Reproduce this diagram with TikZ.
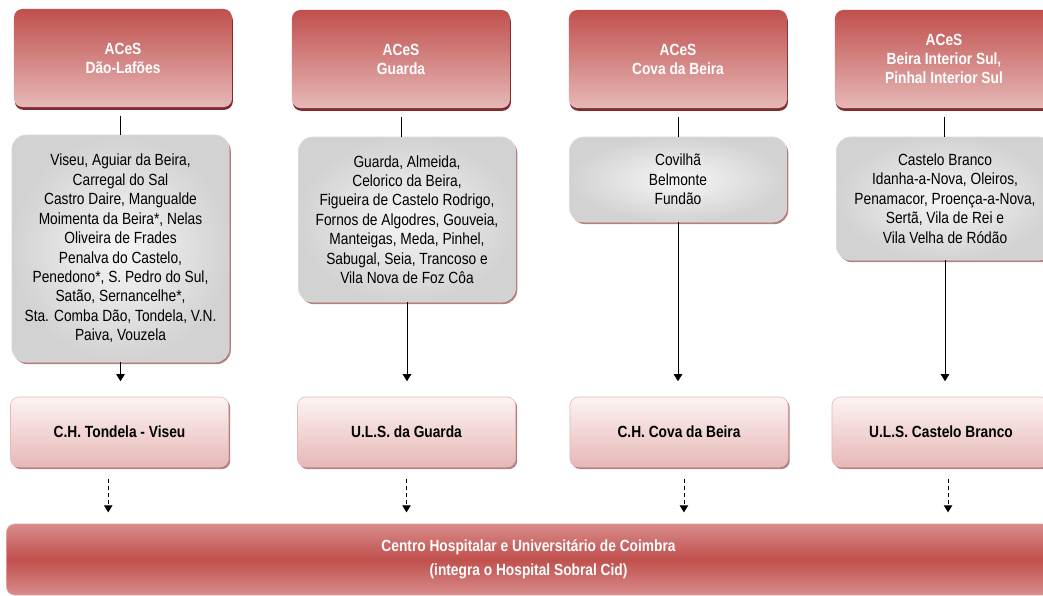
\documentclass[tikz,border=0pt]{standalone}
\usepackage{fontspec}
\setmainfont{Liberation Sans}[FakeStretch=0.85]
\usetikzlibrary{arrows.meta,shadows}
\definecolor{acesred}{RGB}{192,80,77}
\definecolor{acespink}{RGB}{230,184,183}
\definecolor{acesshade}{RGB}{130,45,45}
\definecolor{hosptop}{RGB}{253,243,243}
\definecolor{grayin}{RGB}{246,246,246}
\definecolor{grayout}{RGB}{210,210,210}
\definecolor{barlight}{RGB}{216,140,139}

\begin{document}
\begin{tikzpicture}[x=0.025cm,y=-0.025cm,
  every node/.style={align=center, inner sep=0pt, font=\fontsize{11.5}{13.8}\selectfont},
  aces/.style={rounded corners=6pt, top color=acesred, bottom color=acespink, text=white,
    minimum width=5.45cm, minimum height=2.45cm, font=\fontsize{11.5}{13.6}\selectfont\bfseries,
    drop shadow={shadow xshift=0.6pt, shadow yshift=-2pt, fill=acesshade, opacity=1}},
  towns/.style={rounded corners=10pt, shading=radial, inner color=grayin, outer color=grayout,
    draw=gray!25, minimum width=5.43cm,
    drop shadow={shadow xshift=1.2pt, shadow yshift=-1.5pt, fill=acesshade!60, opacity=1}},
  hosp/.style={rounded corners=6pt, top color=hosptop, bottom color=acespink, draw=acespink,
    minimum width=5.45cm, minimum height=1.75cm, font=\fontsize{11.5}{13.6}\selectfont\bfseries,
    drop shadow={shadow xshift=1.2pt, shadow yshift=-1.5pt, fill=acesshade!60, opacity=1}},
  chuc/.style={rounded corners=6pt, top color=barlight, bottom color=barlight, middle color=acesred,
    draw=acespink, text=white, minimum width=26.1cm, minimum height=1.78cm,
    font=\fontsize{11.5}{17}\selectfont\bfseries},
  link/.style={line width=0.6pt},
  flow/.style={line width=0.6pt, -{Triangle[width=6pt,length=5pt]}},
  dflow/.style={line width=0.6pt, dash pattern=on 3pt off 2pt, -{Triangle[width=6pt,length=5pt]}}]
\useasboundingbox (0,0) rectangle (1043,596);

\node[aces] (t1) at (123,58) {ACeS\\Dão-Lafões};
\node[aces] (t2) at (401,59) {ACeS\\Guarda};
\node[aces] (t3) at (678,59) {ACeS\\Cova da Beira};
\node[aces] (t4) at (944,59) {ACeS\\Beira Interior Sul,\\Pinhal Interior Sul};

\node[towns, minimum height=5.675cm] (g1) at (120.5,248.5) {Viseu, Aguiar da Beira,\\Carregal do Sal\\Castro Daire, Mangualde\\Moimenta da Beira*, Nelas\\Oliveira de Frades\\Penalva do Castelo,\\Penedono*, S. Pedro do Sul,\\Satão, Sernancelhe*,\\Sta. Comba Dão, Tondela, V.N.\\Paiva, Vouzela};
\node[towns, minimum height=4.125cm] (g2) at (407,219.5) {Guarda, Almeida,\\Celorico da Beira,\\Figueira de Castelo Rodrigo,\\Fornos de Algodres, Gouveia,\\Manteigas, Meda, Pinhel,\\Sabugal, Seia, Trancoso e\\Vila Nova de Foz Côa};
\node[towns, minimum height=2.125cm] (g3) at (678,179.5) {Covilhã\\Belmonte\\Fundão};
\node[towns, minimum height=3.075cm] (g4) at (945,198.5) {Castelo Branco\\Idanha-a-Nova, Oleiros,\\Penamacor, Proença-a-Nova,\\Sertã, Vila de Rei e\\Vila Velha de Ródão};

\node[hosp] (p1) at (119.5,432) {C.H. Tondela - Viseu};
\node[hosp] (p2) at (406.5,432) {U.L.S. da Guarda};
\node[hosp] (p3) at (679,432) {C.H. Cova da Beira};
\node[hosp] (p4) at (941,432) {U.L.S. Castelo Branco};

\node[chuc] (bar) at (528.5,559.5) {Centro Hospitalar e Universitário de Coimbra\\(integra o Hospital Sobral Cid)};

\draw[link, shorten <=6pt] (g1.north |- t1.south) -- (g1.north);
\draw[link, shorten <=6pt] (t2.south) -- (t2.south |- g2.north);
\draw[link, shorten <=6pt] (t3.south) -- (t3.south |- g3.north);
\draw[link, shorten <=6pt] (t4.south) -- (t4.south |- g4.north);

\draw[flow, shorten >=11pt] (g1.south) -- (g1.south |- p1.north);
\draw[flow, shorten >=11pt] (g2.south) -- (g2.south |- p2.north);
\draw[flow, shorten >=11pt] (g3.south) -- (g3.south |- p3.north);
\draw[flow, shorten >=11pt] (g4.south) -- (g4.south |- p4.north);

\draw[dflow, shorten <=8pt, shorten >=8pt] ([xshift=-8pt]p1.south) -- ([xshift=-8pt]p1.south |- bar.north);
\draw[dflow, shorten <=8pt, shorten >=8pt] (p2.south) -- (p2.south |- bar.north);
\draw[dflow, shorten <=8pt, shorten >=8pt] ([xshift=3.5pt]p3.south) -- ([xshift=3.5pt]p3.south |- bar.north);
\draw[dflow, shorten <=8pt, shorten >=8pt] ([xshift=5pt]p4.south) -- ([xshift=5pt]p4.south |- bar.north);
\end{tikzpicture}
\end{document}
